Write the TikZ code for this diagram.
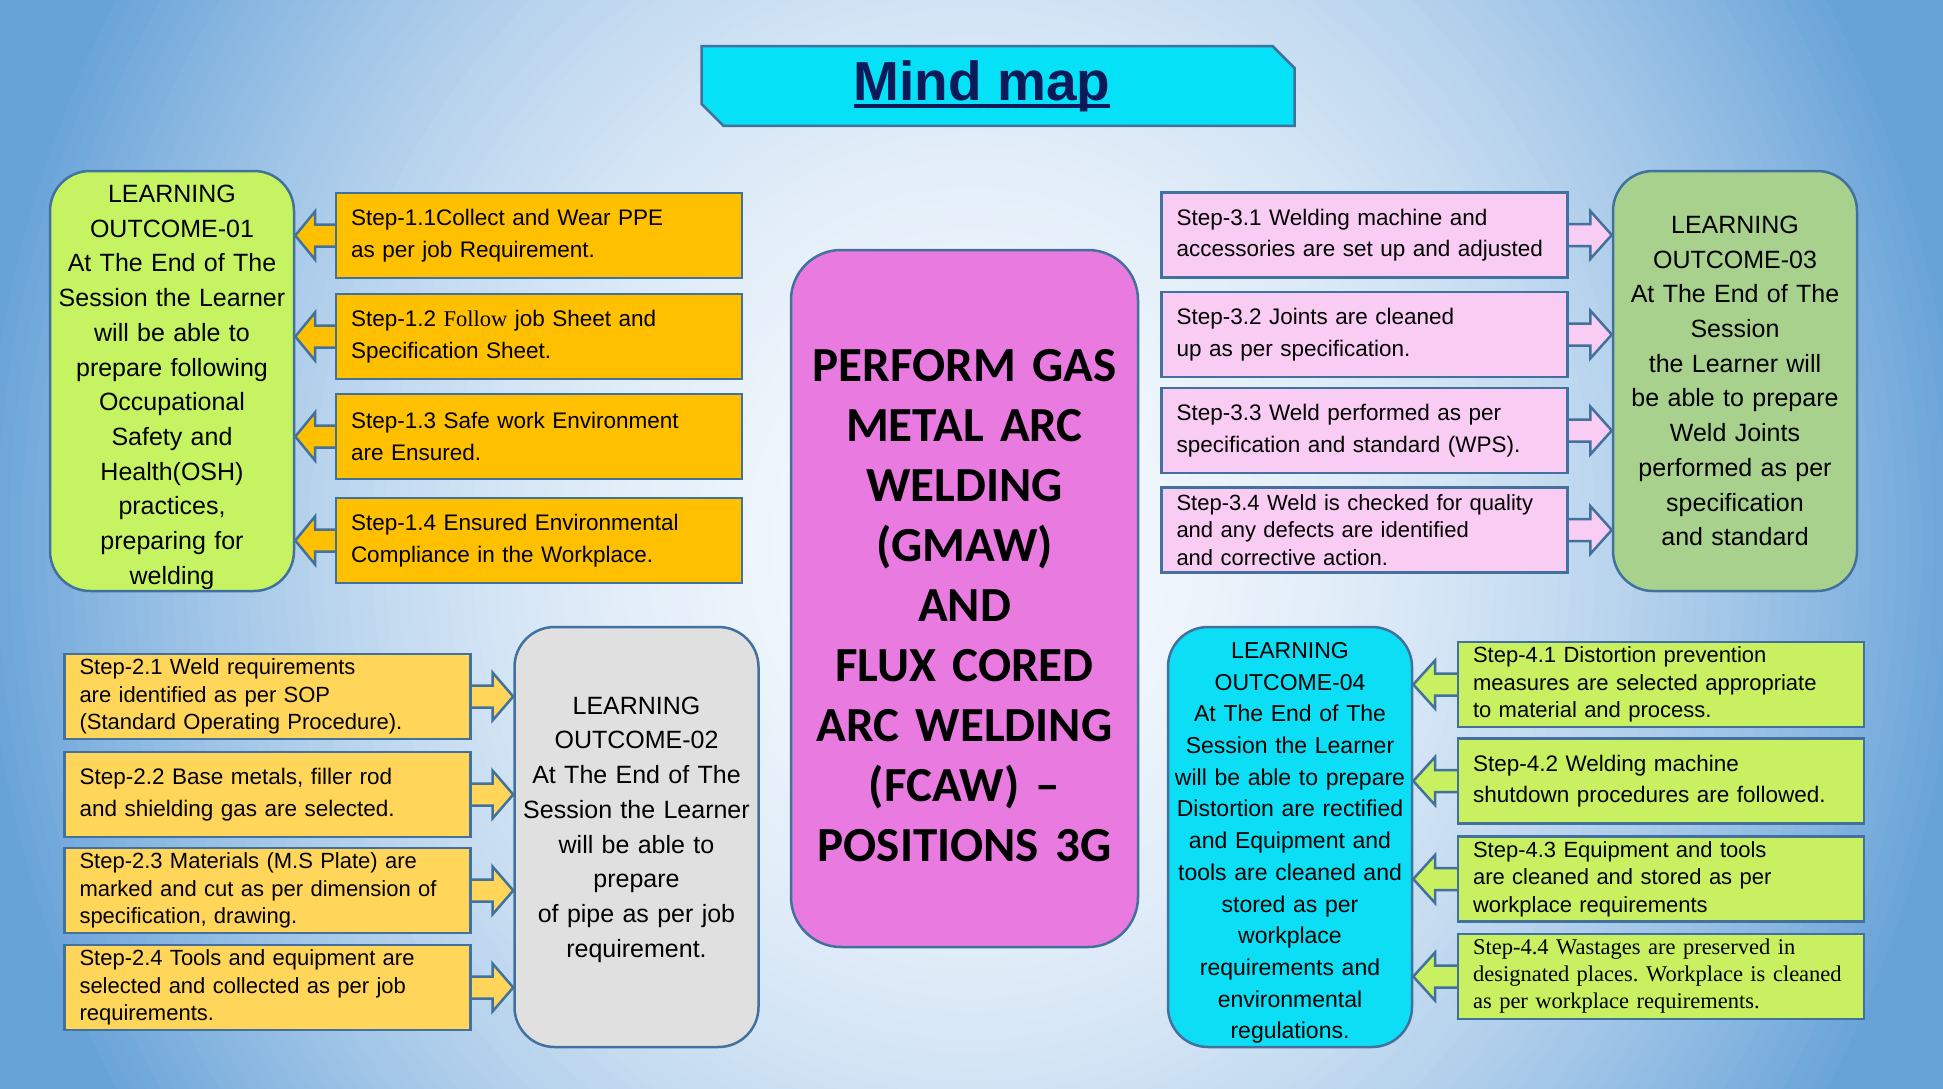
\documentclass[tikz,border=0pt]{standalone}
\usepackage{fontspec}
\setmainfont{Liberation Sans}
\newfontfamily\tmfont{Liberation Serif}
\newfontfamily\corefont{Carlito}
\usetikzlibrary{calc,shapes.misc}
\frenchspacing

\definecolor{edgeblue}{RGB}{65,113,156}
\definecolor{limeout}{RGB}{198,243,98}
\definecolor{stepone}{RGB}{255,192,0}
\definecolor{steptwo}{RGB}{255,214,90}
\definecolor{greyout}{RGB}{224,224,224}
\definecolor{corepink}{RGB}{233,122,224}
\definecolor{stepthree}{RGB}{249,204,243}
\definecolor{sageout}{RGB}{169,209,142}
\definecolor{cyanout}{RGB}{12,223,245}
\definecolor{stepfour}{RGB}{200,240,96}
\definecolor{titlecyan}{RGB}{5,226,248}
\definecolor{titlenavy}{RGB}{12,26,90}
\definecolor{glowin}{RGB}{244,248,253}
\definecolor{glowout}{RGB}{104,163,216}

\pgfdeclarelayer{back}
\pgfdeclarelayer{links}
\pgfsetlayers{back,links,main}

\tikzset{
  outline/.style={draw=edgeblue, line width=2.5pt},
  stepbox/.style={outline, rectangle, minimum height=85, inner xsep=15, inner ysep=0,
    text width=376pt, align=left, font=\fontsize{22.5}{31.5}\selectfont},
  threeline/.style={font=\fontsize{22}{27.5}\selectfont},
  lobox/.style={outline, rounded corners=40, minimum height=420, inner xsep=4, inner ysep=0,
    text width=236pt, align=center, font=\fontsize{25}{34.7}\selectfont},
  linkline/.style={draw=edgeblue, line width=2.5pt, line join=miter}
}

% block arrow from a step box to its outcome box
\newcommand{\steplink}[3]{%
  \draw[linkline, fill=#3] let \p1=(#1), \p2=(#2), \p3=($(#1)!0.5!(#2)$) in
    (\x1,\y1+11) -- (\x3,\y1+11) -- (\x3,\y1+24) -- (\x2,\y1)
    -- (\x3,\y1-24) -- (\x3,\y1-11) -- (\x1,\y1-11);}

\newcommand{\titleline}[1]{{\setbox0\hbox{#1}\rlap{\rule[-8pt]{\wd0}{4pt}}\box0}}

\begin{document}
\begin{tikzpicture}[x=1pt,y=-1pt]
  \useasboundingbox (0,0) rectangle (1943,1089);
  % background glow
  \begin{pgfonlayer}{back}
    \begin{scope}
      \clip (0,0) rectangle (1943,1089);
      \fill[glowout] (0,0) rectangle (1943,1089);
      \foreach \i [evaluate=\i as \f using \i/80,
                   evaluate=\i as \t using {min(100,100*(\i/80)^2)}] in {90,89,...,1}
        \fill[glowout!\t!glowin] (971.5,544.5) ellipse ({1000*\f} and {1100*\f});
    \end{scope}
  \end{pgfonlayer}

  % title
  \node[chamfered rectangle, chamfered rectangle corners={north east,south west},
    chamfered rectangle sep=11pt, outline, fill=titlecyan, minimum width=593, minimum height=57,
    text=titlenavy, font=\fontsize{55}{60}\bfseries] (title) at (998,86) {\titleline{Mind map}\rule{32pt}{0pt}};

  % centre
  \node[outline, fill=corepink, rounded corners=50, minimum width=347, minimum height=697,
    text width=330pt, align=center, font=\corefont\bfseries\fontsize{49}{60}\selectfont]
    (core) at (964.5,598.5) {\rule{0pt}{47pt}PERFORM GAS\\METAL ARC\\WELDING\\(GMAW)\\AND\\FLUX CORED\\ARC WELDING\\(FCAW) –\\POSITIONS 3G};

  % outcome 1
  \node[lobox, fill=limeout] (lo1) at (172,381) {\rule{0pt}{30pt}LEARNING\\OUTCOME-01\\At The End of The\\Session the Learner\\will be able to\\prepare following\\Occupational\\Safety and\\Health(OSH)\\practices,\\preparing for\\welding};
  \node[stepbox, fill=stepone] (s11) at (539,235.5) {Step-1.1Collect and Wear PPE\\as per job Requirement.};
  \node[stepbox, fill=stepone] (s12) at (539,336.5) {Step-1.2 {\tmfont Follow} job Sheet and\\Specification Sheet.};
  \node[stepbox, fill=stepone] (s13) at (539,436.5) {Step-1.3 Safe work Environment\\are Ensured.};
  \node[stepbox, fill=stepone] (s14) at (539,540.5) {Step-1.4 Ensured Environmental\\Compliance in the Workplace.};

  % outcome 2
  \node[lobox, fill=greyout] (lo2) at (636.5,837) {LEARNING\\OUTCOME-02\\At The End of The\\Session the Learner\\will be able to\\prepare\\of pipe as per job\\requirement.\rule[-20pt]{0pt}{20pt}};
  \node[stepbox, threeline, fill=steptwo] (s21) at (267.5,696.5) {Step-2.1 Weld requirements\\are identified as per SOP\\(Standard Operating Procedure).};
  \node[stepbox, fill=steptwo] (s22) at (267.5,794.5) {Step-2.2 Base metals, filler rod\\and shielding gas are selected.};
  \node[stepbox, threeline, fill=steptwo] (s23) at (267.5,890.5) {Step-2.3 Materials (M.S Plate) are\\marked and cut as per dimension of\\specification, drawing.};
  \node[stepbox, threeline, fill=steptwo] (s24) at (267.5,987.5) {Step-2.4 Tools and equipment are\\selected and collected as per job\\requirements.};

  % outcome 3
  \node[lobox, fill=sageout] (lo3) at (1735,381) {LEARNING\\OUTCOME-03\\At The End of The\\Session\\the Learner will\\be able to prepare\\Weld Joints\\performed as per\\specification\\and standard};
  \node[stepbox, fill=stepthree] (s31) at (1364.5,235) {Step-3.1 Welding machine and\\accessories are set up and adjusted};
  \node[stepbox, fill=stepthree] (s32) at (1364.5,334.5) {Step-3.2 Joints are cleaned\\up as per specification.};
  \node[stepbox, fill=stepthree] (s33) at (1364.5,430.5) {Step-3.3 Weld performed as per\\specification and standard (WPS).};
  \node[stepbox, threeline, fill=stepthree] (s34) at (1364.5,530) {Step-3.4 Weld is checked for quality\\and any defects are identified\\and corrective action.};

  % outcome 4
  \node[lobox, fill=cyanout, font=\fontsize{23}{31.7}\selectfont] (lo4) at (1290,837) {\rule{0pt}{28pt}LEARNING\\OUTCOME-04\\At The End of The\\Session the Learner\\will be able to prepare\\Distortion are rectified\\and Equipment and\\tools are cleaned and\\stored as per\\workplace\\requirements and\\environmental\\regulations.};
  \node[stepbox, threeline, fill=stepfour] (s41) at (1661,684.5) {Step-4.1 Distortion prevention\\measures are selected appropriate\\to material and process.};
  \node[stepbox, fill=stepfour] (s42) at (1661,781) {Step-4.2 Welding machine\\shutdown procedures are followed.};
  \node[stepbox, threeline, fill=stepfour] (s43) at (1661,879) {Step-4.3 Equipment and tools\\are cleaned and stored as per\\workplace requirements};
  \node[stepbox, fill=stepfour, font=\tmfont\fontsize{22.5}{27}\selectfont] (s44) at (1661,976.5) {Step-4.4 Wastages are preserved in\\designated places. Workplace is cleaned\\as per workplace requirements.};

  % arrows
  \begin{pgfonlayer}{links}
    \foreach \s in {s11,s12,s13,s14}
      \steplink{\s.west}{\s.west -| lo1.east}{stepone};
    \foreach \s in {s21,s22,s23,s24}
      \steplink{\s.east}{\s.east -| lo2.west}{steptwo};
    \foreach \s in {s31,s32,s33,s34}
      \steplink{\s.east}{\s.east -| lo3.west}{stepthree};
    \foreach \s in {s41,s42,s43,s44}
      \steplink{\s.west}{\s.west -| lo4.east}{stepfour};
  \end{pgfonlayer}
\end{tikzpicture}
\end{document}
